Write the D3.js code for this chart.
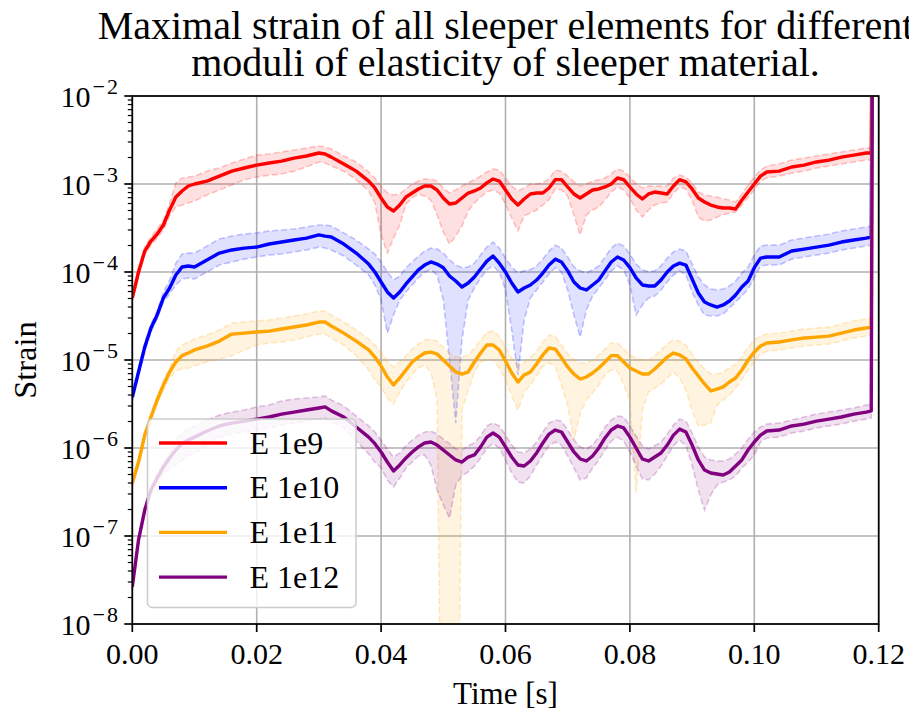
<!DOCTYPE html>
<html>
<head>
<meta charset="utf-8">
<script src="https://cdn.jsdelivr.net/npm/d3@7"></script>
<style>
  body { margin: 0; background: #fff; }
  svg { display: block; }
</style>
</head>
<body>
<svg id="chart" width="909" height="713"></svg>
<script>
// Sample times [s]
const time = [
  0, 0.001, 0.002, 0.003, 0.004, 0.005, 0.006, 0.007, 0.008, 0.009,
  0.010, 0.012, 0.014, 0.016, 0.018, 0.020, 0.022, 0.024, 0.026, 0.028,
  0.030, 0.031, 0.032, 0.034, 0.036, 0.038, 0.039, 0.040, 0.041, 0.042,
  0.043, 0.044, 0.045, 0.046, 0.047, 0.048, 0.049, 0.050, 0.051, 0.052,
  0.053, 0.054, 0.055, 0.056, 0.057, 0.058, 0.059, 0.060, 0.061, 0.062,
  0.063, 0.064, 0.065, 0.066, 0.067, 0.068, 0.069, 0.070, 0.071, 0.072,
  0.073, 0.074, 0.075, 0.076, 0.077, 0.078, 0.079, 0.080, 0.081, 0.082,
  0.083, 0.084, 0.085, 0.086, 0.087, 0.088, 0.089, 0.090, 0.091, 0.092,
  0.093, 0.094, 0.095, 0.096, 0.097, 0.098, 0.099, 0.100, 0.101, 0.102,
  0.104, 0.106, 0.108, 0.110, 0.112, 0.114, 0.116, 0.118, 0.1188, 0.1191
];

// E = 1e9
const e9Mid = [
  5.07e-5, 1.0e-4, 1.73e-4, 2.25e-4, 2.70e-4, 3.42e-4, 5.07e-4, 7.12e-4, 8.33e-4, 9.49e-4,
  1.0e-3, 1.08e-3, 1.23e-3, 1.40e-3, 1.52e-3, 1.64e-3, 1.73e-3, 1.82e-3, 1.97e-3, 2.08e-3,
  2.25e-3, 2.19e-3, 2.02e-3, 1.69e-3, 1.40e-3, 1.08e-3, 9.01e-4, 6.93e-4, 5.48e-4, 4.94e-4,
  5.77e-4, 7.12e-4, 7.90e-4, 8.78e-4, 9.49e-4, 9.49e-4, 8.55e-4, 6.93e-4, 5.93e-4, 6.08e-4,
  6.93e-4, 7.90e-4, 8.33e-4, 9.01e-4, 1.03e-3, 1.14e-3, 1.08e-3, 8.55e-4, 6.76e-4, 5.77e-4,
  6.76e-4, 7.70e-4, 7.90e-4, 7.90e-4, 9.01e-4, 1.12e-3, 1.12e-3, 9.25e-4, 7.70e-4, 6.93e-4,
  7.70e-4, 8.55e-4, 8.78e-4, 9.25e-4, 1.0e-3, 1.17e-3, 1.12e-3, 9.25e-4, 7.70e-4, 6.76e-4,
  7.70e-4, 8.11e-4, 7.90e-4, 7.70e-4, 9.49e-4, 1.12e-3, 1.06e-3, 8.78e-4, 6.93e-4, 6.25e-4,
  5.77e-4, 5.48e-4, 5.34e-4, 5.34e-4, 5.20e-4, 6.58e-4, 8.11e-4, 1.0e-3, 1.23e-3, 1.37e-3,
  1.40e-3, 1.56e-3, 1.64e-3, 1.78e-3, 1.87e-3, 2.02e-3, 2.13e-3, 2.25e-3, 2.25e-3, 10
];
const e9Low = [
  4.68e-5, 9.01e-5, 1.56e-4, 2.02e-4, 2.43e-4, 3.00e-4, 4.33e-4, 5.48e-4, 5.77e-4, 6.08e-4,
  6.41e-4, 7.50e-4, 8.55e-4, 9.74e-4, 1.12e-3, 1.20e-3, 1.26e-3, 1.30e-3, 1.40e-3, 1.56e-3,
  1.78e-3, 1.73e-3, 1.60e-3, 1.40e-3, 1.12e-3, 8.33e-4, 6.08e-4, 2.64e-4, 1.64e-4, 2.43e-4,
  3.42e-4, 5.93e-4, 6.93e-4, 7.70e-4, 7.31e-4, 6.58e-4, 4.45e-4, 2.85e-4, 2.08e-4, 2.56e-4,
  3.33e-4, 4.94e-4, 6.08e-4, 7.12e-4, 8.11e-4, 8.55e-4, 7.90e-4, 5.93e-4, 4.11e-4, 2.93e-4,
  4.33e-4, 4.68e-4, 5.07e-4, 5.77e-4, 6.58e-4, 8.78e-4, 8.55e-4, 7.31e-4, 4.45e-4, 2.64e-4,
  4.45e-4, 5.07e-4, 5.48e-4, 6.58e-4, 8.11e-4, 9.25e-4, 8.55e-4, 6.93e-4, 5.07e-4, 4.22e-4,
  5.07e-4, 5.77e-4, 6.08e-4, 6.25e-4, 7.90e-4, 9.25e-4, 8.78e-4, 6.58e-4, 4.22e-4, 3.80e-4,
  3.90e-4, 4.22e-4, 4.45e-4, 4.68e-4, 4.81e-4, 5.77e-4, 7.12e-4, 8.55e-4, 1.08e-3, 1.17e-3,
  1.23e-3, 1.33e-3, 1.40e-3, 1.52e-3, 1.60e-3, 1.69e-3, 1.78e-3, 1.87e-3, 1.87e-3, 10
];
const e9High = [
  5.48e-5, 1.12e-4, 1.92e-4, 2.50e-4, 3.08e-4, 3.90e-4, 6.08e-4, 1.03e-3, 1.17e-3, 1.20e-3,
  1.23e-3, 1.40e-3, 1.52e-3, 1.73e-3, 1.92e-3, 2.13e-3, 2.19e-3, 2.31e-3, 2.43e-3, 2.56e-3,
  2.70e-3, 2.64e-3, 2.50e-3, 2.08e-3, 1.78e-3, 1.37e-3, 1.17e-3, 9.49e-4, 7.90e-4, 7.50e-4,
  7.70e-4, 8.78e-4, 1.0e-3, 1.08e-3, 1.14e-3, 1.14e-3, 1.08e-3, 9.01e-4, 7.90e-4, 8.55e-4,
  9.49e-4, 1.03e-3, 1.12e-3, 1.23e-3, 1.37e-3, 1.48e-3, 1.44e-3, 1.17e-3, 9.49e-4, 8.33e-4,
  9.01e-4, 1.0e-3, 1.0e-3, 1.03e-3, 1.14e-3, 1.44e-3, 1.40e-3, 1.23e-3, 1.06e-3, 9.49e-4,
  1.0e-3, 1.08e-3, 1.12e-3, 1.17e-3, 1.30e-3, 1.48e-3, 1.40e-3, 1.20e-3, 1.0e-3, 9.01e-4,
  9.49e-4, 9.49e-4, 9.49e-4, 9.49e-4, 1.17e-3, 1.26e-3, 1.20e-3, 1.03e-3, 8.11e-4, 7.50e-4,
  7.31e-4, 7.12e-4, 6.76e-4, 6.58e-4, 6.25e-4, 7.70e-4, 9.74e-4, 1.20e-3, 1.44e-3, 1.60e-3,
  1.69e-3, 1.87e-3, 1.97e-3, 2.08e-3, 2.19e-3, 2.31e-3, 2.43e-3, 2.56e-3, 2.56e-3, 10
];

// E = 1e10
const e10Mid = [
  3.80e-6, 7.31e-6, 1.40e-5, 2.31e-5, 3.25e-5, 5.07e-5, 6.58e-5, 9.25e-5, 1.14e-4, 1.17e-4,
  1.14e-4, 1.37e-4, 1.64e-4, 1.78e-4, 1.87e-4, 1.92e-4, 2.08e-4, 2.19e-4, 2.31e-4, 2.43e-4,
  2.64e-4, 2.56e-4, 2.50e-4, 2.08e-4, 1.64e-4, 1.23e-4, 1.0e-4, 7.70e-5, 5.93e-5, 5.07e-5,
  5.93e-5, 7.31e-5, 8.78e-5, 1.06e-4, 1.20e-4, 1.30e-4, 1.23e-4, 1.12e-4, 9.01e-5, 7.90e-5,
  6.76e-5, 7.50e-5, 8.78e-5, 1.08e-4, 1.33e-4, 1.52e-4, 1.26e-4, 1.0e-4, 7.50e-5, 5.93e-5,
  6.58e-5, 7.12e-5, 8.11e-5, 9.74e-5, 1.20e-4, 1.40e-4, 1.30e-4, 1.03e-4, 7.70e-5, 6.58e-5,
  6.25e-5, 7.12e-5, 8.11e-5, 1.03e-4, 1.30e-4, 1.48e-4, 1.37e-4, 1.12e-4, 8.55e-5, 7.12e-5,
  6.93e-5, 6.93e-5, 8.11e-5, 1.0e-4, 1.17e-4, 1.26e-4, 1.20e-4, 8.33e-5, 5.77e-5, 4.56e-5,
  4.22e-5, 4.00e-5, 4.22e-5, 4.68e-5, 5.48e-5, 6.76e-5, 7.90e-5, 1.12e-4, 1.44e-4, 1.48e-4,
  1.48e-4, 1.73e-4, 1.82e-4, 1.92e-4, 2.02e-4, 2.19e-4, 2.31e-4, 2.43e-4, 2.50e-4, 10
];
const e10Low = [
  3.42e-6, 6.58e-6, 1.26e-5, 2.08e-5, 2.93e-5, 4.56e-5, 5.62e-5, 7.12e-5, 8.33e-5, 8.55e-5,
  8.33e-5, 1.0e-4, 1.20e-4, 1.30e-4, 1.40e-4, 1.48e-4, 1.56e-4, 1.60e-4, 1.69e-4, 1.78e-4,
  1.92e-4, 1.87e-4, 1.78e-4, 1.52e-4, 1.20e-4, 9.25e-5, 7.12e-5, 4.81e-5, 2.02e-5, 3.25e-5,
  4.81e-5, 5.93e-5, 7.12e-5, 8.55e-5, 1.0e-4, 1.06e-4, 9.25e-5, 4.81e-5, 1.0e-5, 1.92e-6,
  1.69e-5, 4.81e-5, 6.58e-5, 8.55e-5, 1.06e-4, 1.17e-4, 1.0e-4, 6.25e-5, 2.19e-5, 6.76e-6,
  2.85e-5, 5.07e-5, 6.25e-5, 7.70e-5, 9.49e-5, 1.12e-4, 1.0e-4, 6.25e-5, 3.25e-5, 1.82e-5,
  3.70e-5, 5.34e-5, 6.58e-5, 8.11e-5, 1.03e-4, 1.17e-4, 1.06e-4, 7.12e-5, 3.25e-5, 4.22e-5,
  5.07e-5, 5.34e-5, 6.25e-5, 7.70e-5, 9.25e-5, 1.03e-4, 9.25e-5, 5.93e-5, 4.22e-5, 3.25e-5,
  3.16e-5, 3.16e-5, 3.33e-5, 3.90e-5, 4.56e-5, 5.34e-5, 6.41e-5, 8.55e-5, 1.17e-4, 1.20e-4,
  1.20e-4, 1.40e-4, 1.48e-4, 1.56e-4, 1.64e-4, 1.78e-4, 1.87e-4, 1.97e-4, 2.02e-4, 10
];
const e10High = [
  4.22e-6, 8.11e-6, 1.56e-5, 2.56e-5, 3.61e-5, 5.93e-5, 8.11e-5, 1.26e-4, 1.60e-4, 1.64e-4,
  1.64e-4, 1.97e-4, 2.37e-4, 2.56e-4, 2.70e-4, 2.78e-4, 2.93e-4, 3.00e-4, 3.08e-4, 3.25e-4,
  3.42e-4, 3.42e-4, 3.33e-4, 2.78e-4, 2.31e-4, 1.82e-4, 1.60e-4, 1.30e-4, 1.0e-4, 8.11e-5,
  9.01e-5, 1.12e-4, 1.30e-4, 1.52e-4, 1.73e-4, 1.87e-4, 1.82e-4, 1.64e-4, 1.37e-4, 1.20e-4,
  1.12e-4, 1.14e-4, 1.26e-4, 1.56e-4, 1.92e-4, 2.19e-4, 1.87e-4, 1.44e-4, 1.14e-4, 9.74e-5,
  1.03e-4, 1.06e-4, 1.17e-4, 1.40e-4, 1.73e-4, 2.02e-4, 1.87e-4, 1.48e-4, 1.14e-4, 1.03e-4,
  9.74e-5, 1.06e-4, 1.17e-4, 1.48e-4, 1.87e-4, 2.13e-4, 1.97e-4, 1.60e-4, 1.23e-4, 1.06e-4,
  1.0e-4, 1.03e-4, 1.17e-4, 1.44e-4, 1.69e-4, 1.82e-4, 1.73e-4, 1.23e-4, 8.78e-5, 7.12e-5,
  6.41e-5, 6.25e-5, 6.41e-5, 6.93e-5, 7.90e-5, 9.74e-5, 1.14e-4, 1.56e-4, 1.97e-4, 2.02e-4,
  2.02e-4, 2.31e-4, 2.43e-4, 2.56e-4, 2.70e-4, 2.93e-4, 3.08e-4, 3.25e-4, 3.33e-4, 10
];

// E = 1e11
const e11Mid = [
  4.00e-7, 6.93e-7, 1.40e-6, 2.25e-6, 3.51e-6, 5.20e-6, 7.31e-6, 9.49e-6, 1.12e-5, 1.20e-5,
  1.30e-5, 1.44e-5, 1.64e-5, 1.97e-5, 2.02e-5, 2.08e-5, 2.13e-5, 2.25e-5, 2.37e-5, 2.50e-5,
  2.70e-5, 2.70e-5, 2.43e-5, 2.02e-5, 1.64e-5, 1.30e-5, 1.08e-5, 8.55e-6, 6.41e-6, 5.20e-6,
  6.25e-6, 7.70e-6, 9.49e-6, 1.08e-5, 1.20e-5, 1.23e-5, 1.17e-5, 1.0e-5, 8.55e-6, 7.31e-6,
  6.93e-6, 7.31e-6, 9.49e-6, 1.20e-5, 1.48e-5, 1.48e-5, 1.30e-5, 9.74e-6, 7.12e-6, 5.62e-6,
  6.76e-6, 7.31e-6, 9.01e-6, 1.14e-5, 1.37e-5, 1.33e-5, 1.06e-5, 8.33e-6, 6.93e-6, 6.08e-6,
  6.41e-6, 7.12e-6, 8.11e-6, 9.49e-6, 1.12e-5, 1.12e-5, 9.49e-6, 8.11e-6, 7.50e-6, 6.93e-6,
  6.93e-6, 7.90e-6, 9.25e-6, 1.08e-5, 1.20e-5, 1.14e-5, 1.03e-5, 8.11e-6, 6.58e-6, 5.34e-6,
  4.45e-6, 4.68e-6, 4.94e-6, 5.62e-6, 6.25e-6, 7.70e-6, 1.0e-5, 1.23e-5, 1.44e-5, 1.56e-5,
  1.60e-5, 1.69e-5, 1.78e-5, 1.82e-5, 1.87e-5, 2.02e-5, 2.19e-5, 2.31e-5, 2.37e-5, 10
];
const e11Low = [
  3.61e-7, 6.25e-7, 1.26e-6, 2.02e-6, 3.16e-6, 4.56e-6, 6.25e-6, 7.50e-6, 7.90e-6, 8.11e-6,
  8.55e-6, 9.49e-6, 1.03e-5, 1.12e-5, 1.30e-5, 1.48e-5, 1.56e-5, 1.60e-5, 1.69e-5, 1.82e-5,
  1.97e-5, 1.97e-5, 1.78e-5, 1.48e-5, 1.12e-5, 7.70e-6, 5.93e-6, 4.94e-6, 3.70e-6, 3.16e-6,
  4.33e-6, 5.62e-6, 6.93e-6, 8.11e-6, 8.78e-6, 7.31e-6, 3.51e-6, 1e-12, 1e-12, 1e-12,
  2.70e-6, 4.56e-6, 7.31e-6, 9.49e-6, 1.0e-5, 1.0e-5, 8.11e-6, 5.93e-6, 3.90e-6, 2.70e-6,
  4.33e-6, 5.20e-6, 6.58e-6, 8.55e-6, 9.25e-6, 8.55e-6, 5.20e-6, 3.08e-6, 1.23e-6, 2.50e-6,
  3.51e-6, 4.22e-6, 5.20e-6, 6.76e-6, 7.70e-6, 7.50e-6, 5.20e-6, 3.51e-6, 3.08e-7, 2.70e-6,
  4.33e-6, 4.81e-6, 5.34e-6, 6.25e-6, 7.31e-6, 6.25e-6, 4.56e-6, 2.70e-6, 1.78e-6, 1.82e-6,
  1.92e-6, 3.08e-6, 3.51e-6, 4.00e-6, 4.81e-6, 5.93e-6, 7.70e-6, 9.49e-6, 1.17e-5, 1.26e-5,
  1.30e-5, 1.37e-5, 1.44e-5, 1.48e-5, 1.52e-5, 1.64e-5, 1.78e-5, 1.87e-5, 1.92e-5, 10
];
const e11High = [
  4.45e-7, 7.70e-7, 1.56e-6, 2.50e-6, 3.90e-6, 5.77e-6, 8.11e-6, 1.26e-5, 1.48e-5, 1.60e-5,
  1.73e-5, 1.92e-5, 2.19e-5, 2.64e-5, 2.70e-5, 2.78e-5, 2.85e-5, 3.00e-5, 3.16e-5, 3.33e-5,
  3.61e-5, 3.61e-5, 3.25e-5, 2.70e-5, 2.19e-5, 1.73e-5, 1.48e-5, 1.23e-5, 9.74e-6, 8.33e-6,
  9.49e-6, 1.12e-5, 1.33e-5, 1.52e-5, 1.69e-5, 1.73e-5, 1.64e-5, 1.40e-5, 1.20e-5, 1.08e-5,
  1.08e-5, 1.14e-5, 1.37e-5, 1.69e-5, 2.08e-5, 2.13e-5, 1.87e-5, 1.40e-5, 1.06e-5, 8.78e-6,
  9.49e-6, 1.06e-5, 1.26e-5, 1.60e-5, 1.92e-5, 1.87e-5, 1.48e-5, 1.17e-5, 1.0e-5, 9.25e-6,
  9.25e-6, 1.0e-5, 1.14e-5, 1.33e-5, 1.56e-5, 1.56e-5, 1.33e-5, 1.14e-5, 1.06e-5, 1.0e-5,
  1.0e-5, 1.12e-5, 1.30e-5, 1.52e-5, 1.69e-5, 1.64e-5, 1.48e-5, 1.17e-5, 9.49e-6, 7.90e-6,
  6.93e-6, 6.93e-6, 7.31e-6, 8.11e-6, 9.01e-6, 1.08e-5, 1.40e-5, 1.69e-5, 1.87e-5, 1.97e-5,
  2.02e-5, 2.13e-5, 2.25e-5, 2.31e-5, 2.37e-5, 2.56e-5, 2.78e-5, 2.93e-5, 3.00e-5, 10
];

// E = 1e12
const e12Mid = [
  2.64e-8, 9.01e-8, 1.97e-7, 3.33e-7, 4.56e-7, 6.08e-7, 7.70e-7, 9.49e-7, 1.12e-6, 1.23e-6,
  1.33e-6, 1.56e-6, 1.78e-6, 1.92e-6, 2.02e-6, 2.13e-6, 2.25e-6, 2.43e-6, 2.56e-6, 2.70e-6,
  2.85e-6, 2.93e-6, 2.64e-6, 2.25e-6, 1.73e-6, 1.33e-6, 1.12e-6, 9.01e-7, 6.93e-7, 5.48e-7,
  6.41e-7, 7.70e-7, 9.01e-7, 1.03e-6, 1.14e-6, 1.17e-6, 1.08e-6, 9.49e-7, 8.33e-7, 7.31e-7,
  6.93e-7, 7.90e-7, 8.33e-7, 1.03e-6, 1.33e-6, 1.48e-6, 1.33e-6, 1.03e-6, 7.90e-7, 6.41e-7,
  6.25e-7, 7.12e-7, 8.78e-7, 1.14e-6, 1.44e-6, 1.60e-6, 1.52e-6, 1.17e-6, 9.01e-7, 7.50e-7,
  7.12e-7, 8.11e-7, 1.0e-6, 1.30e-6, 1.60e-6, 1.78e-6, 1.69e-6, 1.33e-6, 1.0e-6, 7.50e-7,
  7.12e-7, 7.90e-7, 8.78e-7, 1.08e-6, 1.40e-6, 1.64e-6, 1.52e-6, 1.08e-6, 7.31e-7, 5.62e-7,
  5.20e-7, 5.07e-7, 4.94e-7, 5.34e-7, 6.25e-7, 7.31e-7, 9.49e-7, 1.17e-6, 1.40e-6, 1.56e-6,
  1.60e-6, 1.78e-6, 1.87e-6, 2.02e-6, 2.13e-6, 2.25e-6, 2.43e-6, 2.56e-6, 2.64e-6, 10
];
const e12Low = [
  2.37e-8, 8.11e-8, 1.78e-7, 3.00e-7, 4.11e-7, 5.07e-7, 5.93e-7, 6.41e-7, 7.31e-7, 8.11e-7,
  8.78e-7, 1.08e-6, 1.33e-6, 1.44e-6, 1.52e-6, 1.60e-6, 1.69e-6, 1.82e-6, 1.92e-6, 2.02e-6,
  2.13e-6, 2.19e-6, 1.97e-6, 1.69e-6, 1.20e-6, 8.55e-7, 6.93e-7, 5.93e-7, 4.33e-7, 3.61e-7,
  4.56e-7, 5.93e-7, 6.93e-7, 8.11e-7, 8.33e-7, 6.41e-7, 3.33e-7, 2.25e-7, 1.60e-7, 3.80e-7,
  4.81e-7, 5.34e-7, 6.25e-7, 7.70e-7, 1.0e-6, 1.12e-6, 1.0e-6, 7.31e-7, 5.20e-7, 4.11e-7,
  4.00e-7, 4.81e-7, 6.41e-7, 8.33e-7, 1.06e-6, 1.17e-6, 1.08e-6, 8.11e-7, 5.93e-7, 4.33e-7,
  4.56e-7, 5.93e-7, 7.31e-7, 9.49e-7, 1.20e-6, 1.33e-6, 1.20e-6, 9.01e-7, 6.25e-7, 4.45e-7,
  4.33e-7, 5.07e-7, 6.25e-7, 8.11e-7, 1.06e-6, 1.23e-6, 1.06e-6, 6.41e-7, 3.33e-7, 1.97e-7,
  2.93e-7, 3.80e-7, 4.11e-7, 4.33e-7, 4.81e-7, 5.93e-7, 6.93e-7, 8.33e-7, 1.17e-6, 1.30e-6,
  1.33e-6, 1.48e-6, 1.56e-6, 1.69e-6, 1.78e-6, 1.87e-6, 2.02e-6, 2.13e-6, 2.19e-6, 10
];
const e12High = [
  2.93e-8, 1.0e-7, 2.19e-7, 3.70e-7, 5.07e-7, 6.76e-7, 8.55e-7, 1.26e-6, 1.48e-6, 1.64e-6,
  1.78e-6, 2.08e-6, 2.37e-6, 2.56e-6, 2.70e-6, 2.93e-6, 3.08e-6, 3.42e-6, 3.61e-6, 3.70e-6,
  3.80e-6, 3.90e-6, 3.51e-6, 3.00e-6, 2.31e-6, 1.78e-6, 1.52e-6, 1.23e-6, 9.74e-7, 7.90e-7,
  8.78e-7, 1.06e-6, 1.23e-6, 1.40e-6, 1.52e-6, 1.56e-6, 1.44e-6, 1.26e-6, 1.12e-6, 9.74e-7,
  9.49e-7, 1.06e-6, 1.14e-6, 1.37e-6, 1.78e-6, 1.92e-6, 1.78e-6, 1.40e-6, 1.08e-6, 9.01e-7,
  8.78e-7, 9.74e-7, 1.17e-6, 1.52e-6, 1.92e-6, 2.08e-6, 2.02e-6, 1.60e-6, 1.23e-6, 1.03e-6,
  9.74e-7, 1.08e-6, 1.33e-6, 1.73e-6, 2.08e-6, 2.31e-6, 2.25e-6, 1.78e-6, 1.37e-6, 1.06e-6,
  9.74e-7, 1.06e-6, 1.17e-6, 1.44e-6, 1.82e-6, 2.13e-6, 2.02e-6, 1.48e-6, 1.03e-6, 7.90e-7,
  7.31e-7, 7.12e-7, 7.12e-7, 7.50e-7, 8.55e-7, 1.0e-6, 1.26e-6, 1.52e-6, 1.73e-6, 1.87e-6,
  1.92e-6, 2.08e-6, 2.25e-6, 2.43e-6, 2.56e-6, 2.70e-6, 2.85e-6, 3.08e-6, 3.16e-6, 10
];

const seriesLabels = ["E 1e9", "E 1e10", "E 1e11", "E 1e12"];
const seriesColors = ["#ff0000", "#0000ff", "#ffa500", "#800080"];
const seriesMid = [e9Mid, e10Mid, e11Mid, e12Mid];
const seriesLow = [e9Low, e10Low, e11Low, e12Low];
const seriesHigh = [e9High, e10High, e11High, e12High];

const xTicks = [0, 0.02, 0.04, 0.06, 0.08, 0.10, 0.12];
const xTickLabels = ["0.00", "0.02", "0.04", "0.06", "0.08", "0.10", "0.12"];
const yDecades = [-8, -7, -6, -5, -4, -3, -2];

const titleLines = ["Maximal strain of all sleeper elements for different",
                    "moduli of elasticity of sleeper material."];
const xLabel = "Time [s]";
const yLabel = "Strain";

// ---- layout ----
const plot = { left: 132.3, right: 878.7, top: 96, bottom: 624 };
const SERIF = "Liberation Serif";

const svg = d3.select("#chart");
const x = d3.scaleLinear().domain([0, 0.12]).range([plot.left, plot.right]);
const y = d3.scaleLog().domain([1e-8, 1e-2]).range([plot.bottom, plot.top]);

svg.append("defs").append("clipPath").attr("id", "plotClip")
  .append("rect")
  .attr("x", plot.left).attr("y", plot.top)
  .attr("width", plot.right - plot.left).attr("height", plot.bottom - plot.top);

function label(sel) {
  return sel.style("font-family", SERIF).attr("fill", "#000");
}

// grid
const grid = svg.append("g").attr("stroke", "#b0b0b0").attr("stroke-width", 1.6);
grid.selectAll("line.gx").data(xTicks).join("line")
  .attr("x1", d => x(d)).attr("x2", d => x(d))
  .attr("y1", plot.top).attr("y2", plot.bottom);
grid.selectAll("line.gy").data(yDecades).join("line")
  .attr("x1", plot.left).attr("x2", plot.right)
  .attr("y1", d => y(Math.pow(10, d))).attr("y2", d => y(Math.pow(10, d)));

const rows = seriesMid.map((mid, s) =>
  time.map((t, i) => ({ t, mid: mid[i], lo: seriesLow[s][i], hi: seriesHigh[s][i] })));

const plotArea = svg.append("g").attr("clip-path", "url(#plotClip)");

// uncertainty bands (all bands sit below all lines)
const area = d3.area().x(d => x(d.t)).y0(d => y(d.lo)).y1(d => y(d.hi));
const loLine = d3.line().x(d => x(d.t)).y(d => y(d.lo));
const hiLine = d3.line().x(d => x(d.t)).y(d => y(d.hi));
rows.forEach((r, s) => {
  const g = plotArea.append("g");
  g.append("path").attr("d", area(r))
    .attr("fill", seriesColors[s]).attr("fill-opacity", 0.12);
  [loLine, hiLine].forEach(gen => {
    g.append("path").attr("d", gen(r))
      .attr("fill", "none").attr("stroke", seriesColors[s])
      .attr("stroke-opacity", 0.22).attr("stroke-width", 1.6)
      .attr("stroke-dasharray", "6,3");
  });
});

// median lines
const midLine = d3.line().x(d => x(d.t)).y(d => y(d.mid));
rows.forEach((r, s) => {
  plotArea.append("path").attr("d", midLine(r))
    .attr("fill", "none").attr("stroke", seriesColors[s])
    .attr("stroke-width", 3.4).attr("stroke-linejoin", "round");
});

// spines
svg.append("rect")
  .attr("x", plot.left).attr("y", plot.top)
  .attr("width", plot.right - plot.left).attr("height", plot.bottom - plot.top)
  .attr("fill", "none").attr("stroke", "#000").attr("stroke-width", 1.7);

// x ticks
const xt = svg.append("g");
xt.selectAll("line").data(xTicks).join("line")
  .attr("x1", d => x(d)).attr("x2", d => x(d))
  .attr("y1", plot.bottom).attr("y2", plot.bottom + 8)
  .attr("stroke", "#000").attr("stroke-width", 1.7);
xt.selectAll("text").data(xTicks).join("text")
  .call(label)
  .attr("x", d => x(d)).attr("y", 664)
  .attr("text-anchor", "middle").attr("font-size", 30)
  .text((d, i) => xTickLabels[i]);

// y ticks (log decades + minor ticks)
const yt = svg.append("g");
yt.selectAll("line.major").data(yDecades).join("line")
  .attr("x1", plot.left - 8).attr("x2", plot.left)
  .attr("y1", d => y(Math.pow(10, d))).attr("y2", d => y(Math.pow(10, d)))
  .attr("stroke", "#000").attr("stroke-width", 1.7);
const minor = [];
yDecades.slice(0, -1).forEach(d => { for (let k = 2; k <= 9; k++) minor.push(k * Math.pow(10, d)); });
yt.selectAll("line.minor").data(minor).join("line")
  .attr("x1", plot.left - 4.5).attr("x2", plot.left)
  .attr("y1", d => y(d)).attr("y2", d => y(d))
  .attr("stroke", "#000").attr("stroke-width", 1.2);
const ylab = yt.selectAll("text").data(yDecades).join("text")
  .call(label)
  .attr("x", 118).attr("y", d => y(Math.pow(10, d)) + 11)
  .attr("text-anchor", "end").attr("font-size", 30);
ylab.append("tspan").text("10");
ylab.append("tspan").attr("dx", 2).attr("dy", -13).attr("font-size", 22).text("\u2212");
ylab.append("tspan").attr("dx", 2).attr("font-size", 22).text(d => Math.abs(d));

// axis labels
svg.append("text").call(label)
  .attr("x", (plot.left + plot.right) / 2).attr("y", 704)
  .attr("text-anchor", "middle").attr("font-size", 31).text(xLabel);
svg.append("text").call(label)
  .attr("transform", `translate(36,${(plot.top + plot.bottom) / 2}) rotate(-90)`)
  .attr("text-anchor", "middle").attr("font-size", 32.5).text(yLabel);

// title
svg.selectAll("text.title").data(titleLines).join("text")
  .call(label)
  .attr("class", "title")
  .attr("x", (plot.left + plot.right) / 2).attr("y", (d, i) => 39 + i * 37)
  .attr("text-anchor", "middle").attr("font-size", 40).text(d => d);

// legend
const lg = svg.append("g");
lg.append("rect").attr("x", 147.5).attr("y", 419).attr("width", 208.5).attr("height", 188.5)
  .attr("rx", 5).attr("fill", "#fff").attr("fill-opacity", 0.8)
  .attr("stroke", "#cccccc").attr("stroke-width", 1.5);
const items = lg.selectAll("g.item").data(seriesLabels).join("g")
  .attr("transform", (d, i) => `translate(0,${443 + i * 44.7})`);
items.append("line").attr("x1", 159).attr("x2", 227).attr("y1", 0).attr("y2", 0)
  .attr("stroke", (d, i) => seriesColors[i]).attr("stroke-width", 3.4);
items.append("text").call(label)
  .attr("x", 249.5).attr("y", 10.5).attr("font-size", 32).text(d => d);
</script>
</body>
</html>
